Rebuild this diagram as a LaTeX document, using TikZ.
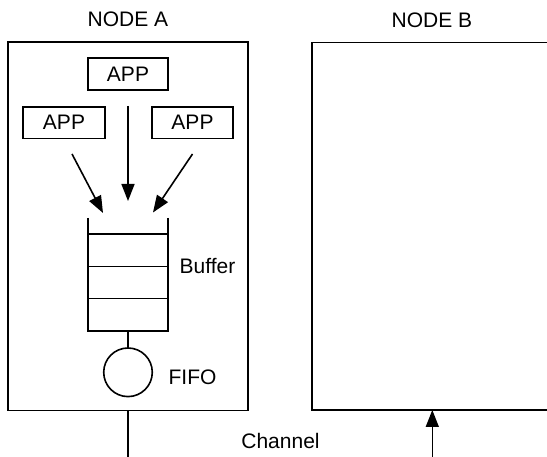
\documentclass[tikz,border=0pt]{standalone}
\usepackage{fontspec}
\setmainfont{Liberation Sans}
\usetikzlibrary{arrows.meta}
\begin{document}
\begin{tikzpicture}[x=1pt,y=-1pt, line width=1.6pt,
  every node/.style={font=\fontsize{21}{25}\selectfont},
  box/.style={draw, rectangle, inner sep=0pt, outer sep=0pt, anchor=north west},
  cell/.style={box, minimum width=80, minimum height=32.2},
  lbl/.style={inner sep=0pt},
  arr/.style={-{Triangle[length=17pt,width=13pt]}}]
\clip (0,0) rectangle (547,457);
% outer nodes
\node[box, minimum width=240, minimum height=368.5] (A) at (8,42) {};
\node[box, minimum width=288, minimum height=367.5] (B) at (312,42.5) {};
\node[lbl] (la) at (128,19.5) {NODE A};
\node[lbl] (lb) at (432,20) {NODE B};
% apps
\node[box, minimum width=80, minimum height=32] (app1) at (88,58) {};
\node[lbl] at (app1.center) {APP};
\node[box, minimum width=82, minimum height=31.5] (app2) at (23,107) {};
\node[lbl] at (app2.center) {APP};
\node[box, minimum width=81, minimum height=31.5] (app3) at (152,107) {};
\node[lbl] at (app3.center) {APP};
% buffer
\node[cell] (c1) at (88,234.3) {};
\node[cell] (c2) at (c1.south west) {};
\node[cell] (c3) at (c2.south west) {};
\coordinate (tl) at (88,218);
\coordinate (tr) at (168,218);
\draw (tl) -- (c1.north west);
\draw (tr) -- (c1.north east);
\node[lbl] (buf) at (207.5,266) {Buffer};
% fifo
\node[draw, circle, minimum size=48.6, inner sep=0pt, outer sep=0pt] (fifo) at (128,372.3) {};
\node[lbl] (ff) at (192.5,377.5) {FIFO};
\draw (c3.south) -- (fifo.north);
% arrows into buffer
\coordinate (s1) at (128,106);
\coordinate (e1) at (128,201);
\coordinate (s2) at (72,154);
\coordinate (e2) at (103,213);
\coordinate (s3) at (192.5,154);
\coordinate (e3) at (153,212.5);
\draw[arr] (s1) -- (e1);
\draw[arr] (s2) -- (e2);
\draw[arr] (s3) -- (e3);
% channel
\coordinate (chA) at (128,457);
\draw (A.south) -- (chA);
\coordinate (chB) at (432.3,457);
\draw[arr] (chB) -- (chB |- B.south);
\node[lbl] (ch) at (280.5,441) {Channel};
\end{tikzpicture}
\end{document}
